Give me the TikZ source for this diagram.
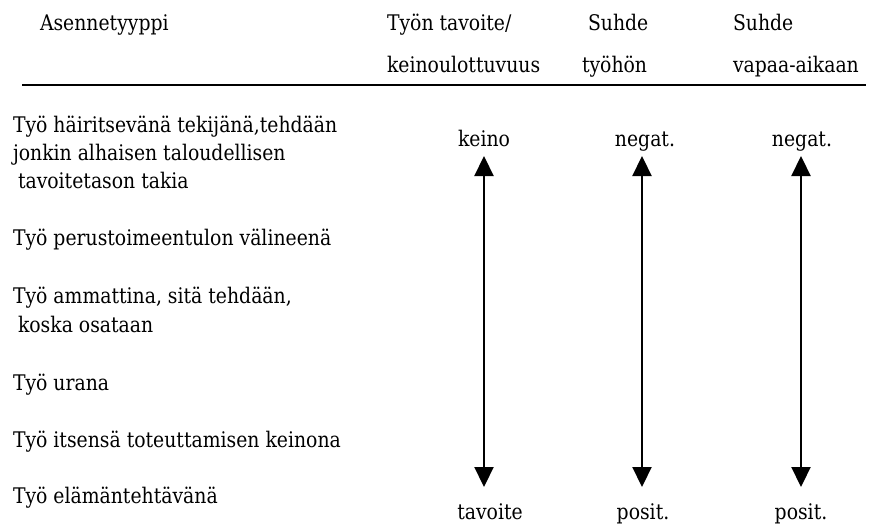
\documentclass[tikz,border=0pt]{standalone}
\usepackage{fontspec}
\setmainfont{DejaVu Serif}[FakeStretch=0.875]
\usetikzlibrary{arrows.meta}
\begin{document}
\begin{tikzpicture}[x=1pt,y=-1pt,
  txt/.style={inner sep=0pt,outer sep=0pt,font=\fontsize{21.5}{28}\selectfont\rmfamily},
  lft/.style={txt,anchor=base west},
  ctr/.style={txt,anchor=base},
  rule/.style={line width=2pt},
  dbl/.style={line width=2.2pt,{Triangle[length=20pt,width=19pt]}-{Triangle[length=20pt,width=19pt]}}]
\useasboundingbox (0,0) rectangle (876,527);
% header
\node[lft] (h1) at (40,31) {Asennetyyppi};
\node[lft] (h2a) at (387,31) {Työn tavoite/};
\node[lft] (h2b) at (387,73) {keinoulottuvuus};
\node[lft] (h3a) at (588,31) {Suhde};
\node[lft] (h3b) at (582,73) {työhön};
\node[lft] (h4a) at (733,31) {Suhde};
\node[lft] (h4b) at (733,73) {vapaa-aikaan};
\coordinate (rl) at (22,85);
\coordinate (rr) at (866,85);
\draw[rule] (rl) -- (rr);
% left column
\node[lft] (r1a) at (13,132) {Työ häiritsevänä tekijänä,tehdään};
\node[lft] (r1b) at (13,160) {jonkin alhaisen taloudellisen};
\node[lft] (r1c) at (18,188) {tavoitetason takia};
\node[lft] (r2) at (13,245) {Työ perustoimeentulon välineenä};
\node[lft] (r3a) at (13,303) {Työ ammattina, sitä tehdään,};
\node[lft] (r3b) at (18,332) {koska osataan};
\node[lft] (r4) at (13,390) {Työ urana};
\node[lft] (r5) at (13,447) {Työ itsensä toteuttamisen keinona};
\node[lft] (r6) at (13,503) {Työ elämäntehtävänä};
% scale end labels
\node[ctr] (k1) at (484,146) {keino};
\node[ctr] (k2) at (645,146) {negat.};
\node[ctr] (k3) at (802,146) {negat.};
\node[ctr] (t1) at (490,519) {tavoite};
\node[ctr] (t2) at (643,519) {posit.};
\node[ctr] (t3) at (801,519) {posit.};
% arrows
\coordinate (a1t) at (484,156);
\coordinate (a1b) at (484,487);
\coordinate (a2t) at (642,156);
\coordinate (a2b) at (642,487);
\coordinate (a3t) at (801,156);
\coordinate (a3b) at (801,487);
\draw[dbl] (a1t) -- (a1b);
\draw[dbl] (a2t) -- (a2b);
\draw[dbl] (a3t) -- (a3b);
\end{tikzpicture}
\end{document}
